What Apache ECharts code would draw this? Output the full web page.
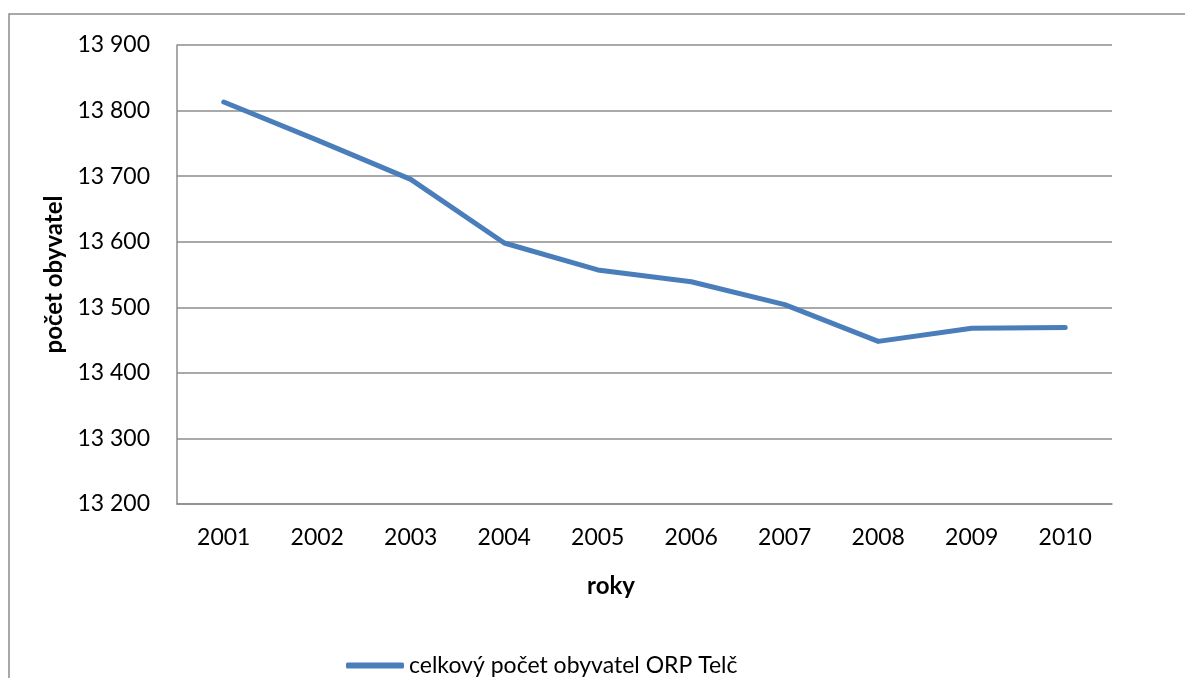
<!DOCTYPE html>
<html>
<head>
<meta charset="utf-8">
<script src="https://cdn.jsdelivr.net/npm/echarts@6/dist/echarts.min.js"></script>
<style>
  html, body { margin: 0; padding: 0; background: #fff; }
  #chart { width: 1185px; height: 678px; }
</style>
</head>
<body>
<div id="chart"></div>
<script>
// data
var roky = ["2001", "2002", "2003", "2004", "2005", "2006", "2007", "2008", "2009", "2010"];
var obyvatele = [13813, 13755, 13695, 13598, 13557, 13539, 13504, 13448, 13468, 13469];
var nazevRady = "celkový počet obyvatel ORP Telč";

(function () {
  var myChart = echarts.init(document.getElementById("chart"));
  var font = "Lato, 'Noto Sans', sans-serif";

  var option = {
    animation: false,
    textStyle: { fontFamily: font },
    // obrys oblasti grafu
    graphic: [{
      type: "rect",
      shape: { x: 9, y: 14, width: 1400, height: 900 },
      style: { fill: "none", stroke: "#8c8c8c", lineWidth: 1.5 },
      silent: true
    }, {
      type: "text",
      x: 611,
      y: 586,
      style: {
        text: "roky",
        font: "bold 24px " + font,
        fill: "#000",
        align: "center",
        verticalAlign: "middle"
      }
    }],
    legend: {
      left: 341,
      top: 649,
      itemWidth: 58,
      itemHeight: 6,
      itemGap: 10,
      textStyle: { color: "#000", fontSize: 23, fontFamily: font },
      data: [{ name: nazevRady, icon: "roundRect" }]
    },
    grid: {
      left: 177,
      top: 45,
      right: 73,
      bottom: 174,
      containLabel: false
    },
    xAxis: {
      type: "category",
      data: roky,
      boundaryGap: true,
      axisTick: { show: false },
      axisLine: { lineStyle: { color: "#8c8c8c", width: 1.5 } },
      axisLabel: { color: "#000", fontSize: 23, margin: 22, fontFamily: font }
    },
    yAxis: {
      type: "value",
      min: 13200,
      max: 13900,
      interval: 100,
      name: "počet obyvatel",
      nameLocation: "middle",
      nameGap: 110,
      nameTextStyle: { color: "#000", fontSize: 24, fontWeight: "bold", fontFamily: font },
      axisLine: { show: true, lineStyle: { color: "#8c8c8c", width: 1.5 } },
      axisTick: { show: false },
      axisLabel: {
        color: "#000",
        fontSize: 23,
        margin: 27,
        fontFamily: font,
        formatter: function (v) {
          return String(v).replace(/\B(?=(\d{3})+(?!\d))/g, " ");
        }
      },
      splitLine: { lineStyle: { color: "#8c8c8c", width: 1.5 } }
    },
    series: [{
      name: nazevRady,
      type: "line",
      data: obyvatele,
      showSymbol: false,
      symbol: "none",
      color: "#4a7ebb",
      lineStyle: { width: 5, color: "#4a7ebb", cap: "round", join: "round" }
    }]
  };

  myChart.setOption(option);
  window.addEventListener("resize", function () {
    myChart.resize();
  });
})();
</script>
</body>
</html>
